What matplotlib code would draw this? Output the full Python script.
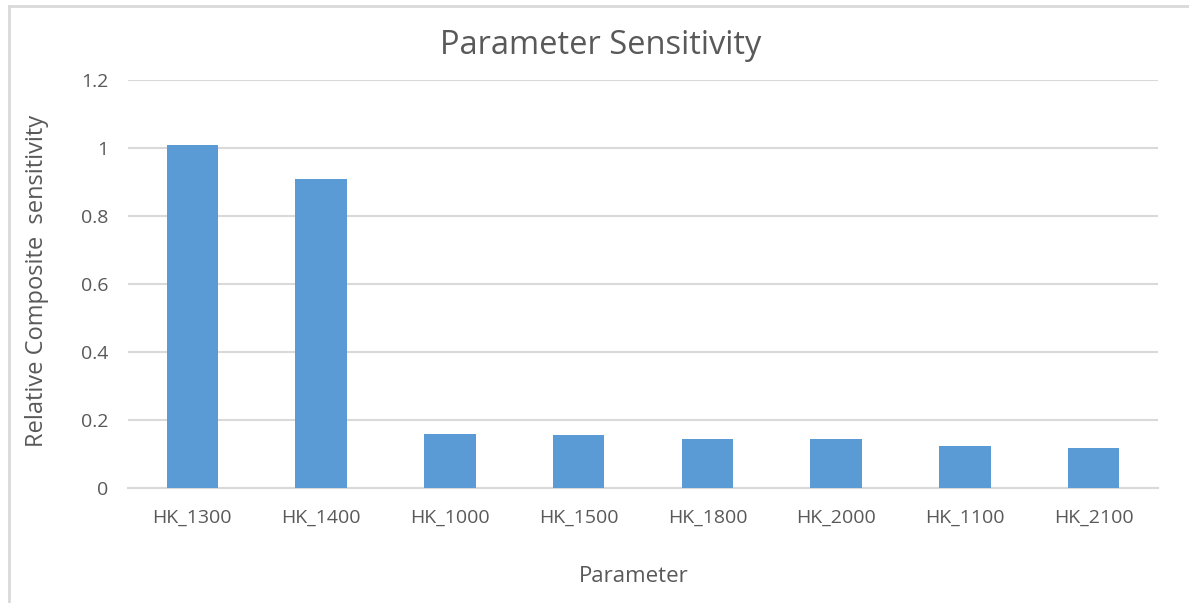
import matplotlib
matplotlib.use("Agg")
import matplotlib.pyplot as plt
from matplotlib.lines import Line2D

categories = ["HK_1300", "HK_1400", "HK_1000", "HK_1500",
              "HK_1800", "HK_2000", "HK_1100", "HK_2100"]
sensitivity = [1.01, 0.91, 0.16, 0.157, 0.143, 0.143, 0.123, 0.119]
y_ticks = [0, 0.2, 0.4, 0.6, 0.8, 1.0, 1.2]
y_tick_labels = ["0", "0.2", "0.4", "0.6", "0.8", "1", "1.2"]

text_color = "#595959"
grid_color = "#D9D9D9"
bar_color = "#5B9BD5"

plt.rcParams["font.family"] = ["Open Sans", "DejaVu Sans"]

W, H = 1189, 603
fig = plt.figure(figsize=(W / 100, H / 100), dpi=100)
ax = fig.add_axes([128 / W, 1 - 488 / H, (1158 - 128) / W, (488 - 80) / H])

x = range(len(categories))
ax.bar(x, sensitivity, width=0.4, color=bar_color, zorder=3)

ax.set_xlim(-0.5, len(categories) - 0.5)
ax.set_ylim(0, 1.2)
ax.set_yticks(y_ticks)
ax.set_yticklabels(y_tick_labels)
ax.set_xticks(list(x))
ax.set_xticklabels(categories)

ax.yaxis.grid(True, color=grid_color, linewidth=1.5, zorder=0)
for side in ("top", "right", "left"):
    ax.spines[side].set_visible(False)
ax.spines["bottom"].set_color(grid_color)
ax.spines["bottom"].set_linewidth(1.5)
ax.tick_params(axis="both", length=0, colors=text_color, labelsize=14)
ax.tick_params(axis="y", pad=14)
ax.tick_params(axis="x", pad=15)

# chart title and axis titles placed on the figure
fig.text(601 / W, 1 - 45 / H, "Parameter Sensitivity", fontsize=23.5,
         color=text_color, ha="center", va="center")
fig.text(634 / W, 1 - 576 / H, "Parameter", fontsize=16,
         color=text_color, ha="center", va="center")
fig.text(37 / W, 1 - 281 / H, "Relative Composite  sensitivity", fontsize=17,
         color=text_color, ha="center", va="center", rotation=90)

# light frame around the chart area
fig.add_artist(Line2D([8.5 / W, 8.5 / W], [0, 1 - 6 / H],
                      transform=fig.transFigure, color=grid_color, lw=2))
fig.add_artist(Line2D([8.5 / W, 1], [1 - 6 / H, 1 - 6 / H],
                      transform=fig.transFigure, color=grid_color, lw=2))

fig.savefig("out.png", dpi=100, facecolor="white")
